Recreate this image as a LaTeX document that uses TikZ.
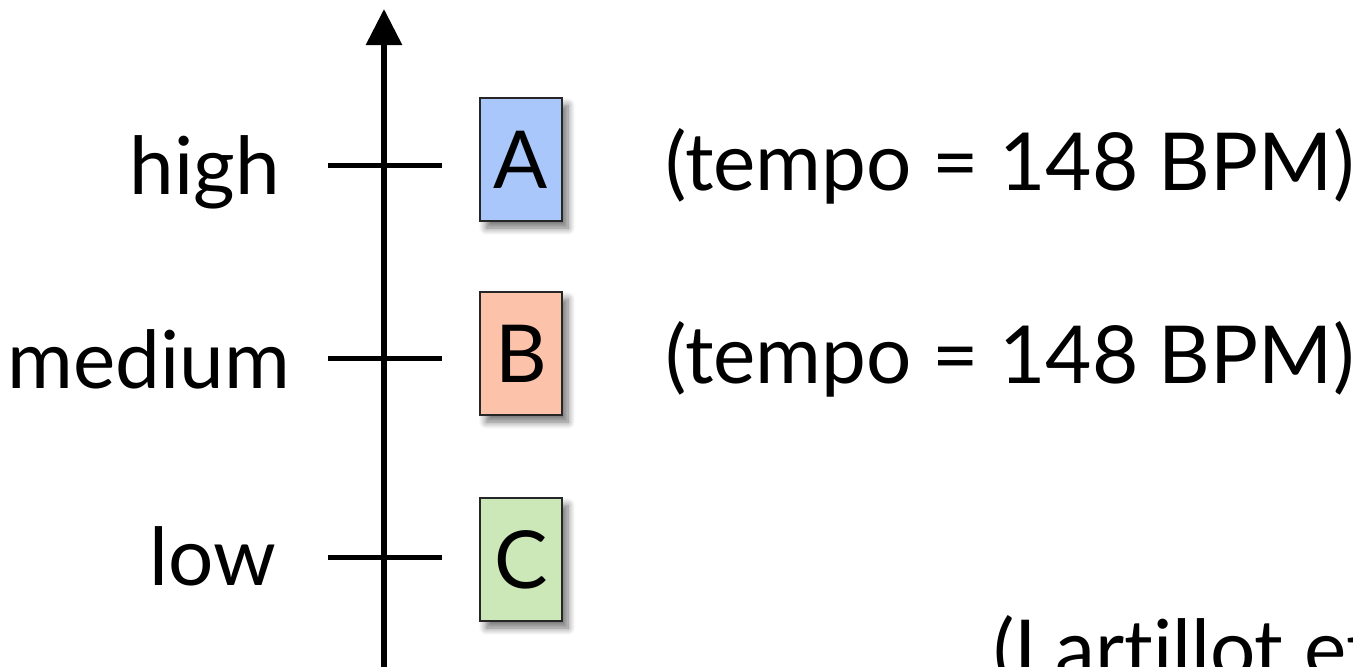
\documentclass[tikz,border=0pt]{standalone}
\usepackage{fontspec}
\setmainfont{Lato}[Ligatures={NoCommon}]
\usetikzlibrary{arrows.meta,shadows.blur}
\tikzset{
  lab/.style={anchor=base east, inner sep=0pt, font=\fontsize{80}{96}\selectfont},
  note/.style={anchor=base west, inner sep=0pt, font=\fontsize{80}{96}\selectfont},
  cbox/.style={draw=black!85, line width=1.2pt, minimum width=82pt, minimum height=123pt, inner sep=0pt,
    font=\fontsize{80}{96}\selectfont,
    blur shadow={shadow xshift=6pt, shadow yshift=-7pt, shadow blur steps=8, shadow blur radius=7pt, shadow opacity=55}},
  tick/.style={line width=5pt},
  axis/.style={line width=6pt, -{Triangle[width=35pt,length=36pt]}}
}
\definecolor{cA}{HTML}{A9C7FB}
\definecolor{cB}{HTML}{FDC3AA}
\definecolor{cC}{HTML}{CDE8B8}
\begin{document}
\begin{tikzpicture}[x=1pt,y=-1pt]
\useasboundingbox (0,0) rectangle (1353,667);
\clip (0,0) rectangle (1353,667);
\coordinate (bot) at (384,680);
\coordinate (top) at (384,9);
\draw[axis] (bot) -- (top);
\foreach \n/\y in {h/165, m/358, l/557}{
  \coordinate (\n1) at (328,\y);
  \coordinate (\n2) at (442,\y);
  \draw[tick] (\n1) -- (\n2);
}
\node[lab] (high) at (280,194) {high};
\node[lab] (medium) at (290,388) {medium};
\node[lab] (low) at (276,585) {low};
\node[cbox, fill=cA] (A) at (521,159.5) {A};
\node[cbox, fill=cB] (B) at (521,353.5) {B};
\node[cbox, fill=cC] (C) at (521,559.5) {C};
\node[note] (tA) at (665,190) {(tempo = 148 BPM)};
\node[note] (tB) at (665,383) {(tempo = 148 BPM)};
\node[note] (ref) at (993,677) {(Lartillot et al., 2008)};
\end{tikzpicture}
\end{document}
